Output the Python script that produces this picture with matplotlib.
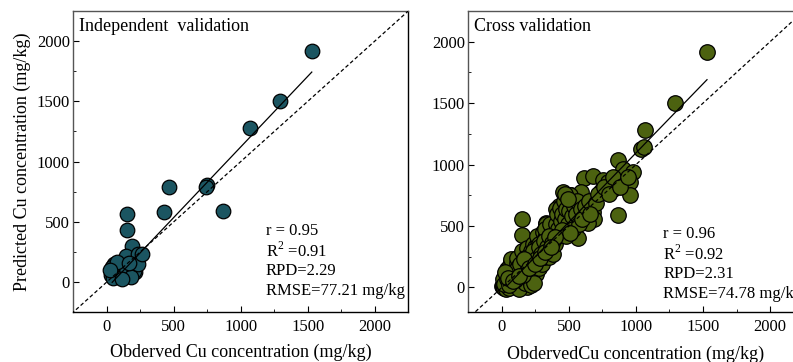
import numpy as np
import matplotlib
matplotlib.use('Agg')
import matplotlib.pyplot as plt
from matplotlib.ticker import MultipleLocator

plt.rcParams['font.family'] = ['Liberation Serif', 'DejaVu Serif']
plt.rcParams['mathtext.fontset'] = 'custom'
plt.rcParams['mathtext.rm'] = 'Liberation Serif'
plt.rcParams['font.size'] = 12

# independent validation set (observed, predicted), mg/kg
ind_obs = [1530, 1290, 1070, 745, 740, 465, 430, 870, 150, 150, 185, 250, 145, 235,
           190, 210, 130, 120, 50, 40, 30, 55, 100, 60, 45, 200, 180, 110, 230, 75,
           165, 20, 260]
ind_pred = [1920, 1500, 1280, 805, 790, 785, 580, 590, 565, 430, 300, 225, 215, 235,
            110, 80, 40, 130, 150, 120, 60, 95, 100, 40, 30, 95, 45, 25, 150, 165,
            160, 100, 236]

# cross validation set (observed, predicted), mg/kg
cv_obs = [1530, 1290, 1070, 1040, 1060, 865, 902, 977, 952, 958, 865, 616, 678, 753,
          790, 828, 740, 453, 516, 591, 429, 404, 591, 678, 690, 640, 528, 566, 429,
          329, 150, 150, 379, 304, 254, 367, 180, 217, 67, 105, 279, 167, 192, 30, 0,
          5, 10, 15, 20, 25, 30, 35, 40, 45, 50, 55, 60, 65, 70, 75, 80, 85, 90, 95,
          100, 20, 40, 60, 10, 30, 50, 70, 90, 80, 65,
          105, 110, 115, 120, 125, 130, 135, 140, 145, 150, 155, 160, 165, 170, 175,
          180, 185, 190, 195, 200, 110, 130, 150, 170, 190, 200, 120, 160, 180, 140,
          205, 210, 215, 220, 225, 230, 235, 240, 245, 250, 255, 260, 265, 270, 275,
          280, 285, 290, 295, 300, 215, 240, 260, 280, 300, 250, 230, 270,
          305, 310, 315, 320, 325, 330, 335, 340, 345, 350, 355, 360, 365, 370, 375,
          380, 385, 390, 395, 400, 320, 360, 390, 340,
          405, 410, 420, 430, 440, 450, 460, 470, 480, 490, 500, 510, 520, 530, 540,
          550, 560, 575, 590, 600, 420, 450, 470, 490, 480, 510,
          15, 35, 55, 75, 95, 115, 135, 155, 175, 195, 215, 235, 255, 275, 295,
          315, 335, 355, 375, 395, 25, 45, 85, 125, 165, 205, 245, 285, 325, 365,
          620, 650, 700, 720, 760, 800, 830, 880, 940, 660]
cv_pred = [1918, 1502, 1279, 1130, 1140, 1040, 966, 939, 857, 749, 591, 890, 904, 871,
           857, 803, 789, 776, 749, 776, 667, 640, 653, 612, 558, 522, 504, 403, 571,
           522, 558, 428, 436, 422, 327, 286, 313, 245, 218, 163, 163, 82, 14, 0, 10,
           0, 20, -5, 40, 10, 60, 25, 90, 0, 50, 120, 30, 80, 140, 10, 60, 110, 170, 40,
           90, 110, 150, 180, 70, -10, -5, 100, 20, 200, 230,
           140, 60, 200, 20, 110, 250, 80, 170, 30, 130, 220, 60, 290, 150, 100,
           210, 0, 260, 120, 180, 240, -10, 300, 40, 320, 70, 170, 200, 140, 110,
           240, 130, 300, 200, 80, 270, 350, 160, 230, 330, 110, 280, 200, 380, 250,
           160, 320, 230, 400, 290, 20, 40, 420, 350, 190, 260, 210, 300,
           350, 450, 250, 400, 330, 520, 290, 440, 380, 250, 470, 340, 410, 300, 500,
           440, 270, 380, 350, 460, 480, 520, 420, 360,
           520, 600, 480, 650, 540, 600, 700, 560, 640, 520, 620, 750, 580, 480, 660,
           600, 700, 520, 640, 560, 420, 470, 760, 720, 420, 440,
           30, 70, 20, 110, 60, 150, 190, 100, 240, 160, 260, 300, 230, 330, 270,
           380, 330, 420, 360, 410, 130, 80, 50, 90, 230, 160, 190, 240, 290, 330,
           660, 700, 690, 760, 820, 760, 900, 820, 900, 600]

# regression lines (intercept, slope) and the range they span
ind_fit = (-50, 1.172)
cv_fit = (-30, 1.125)
fit_range = [40, 1530]

ind_stats = ['r = 0.95', 'R$^2$ =0.91', 'RPD=2.29', 'RMSE=77.21 mg/kg']
cv_stats = ['r = 0.96', 'R$^2$ =0.92', 'RPD=2.31', 'RMSE=74.78 mg/kg']

fig = plt.figure(figsize=(7.93, 3.62), dpi=100)
ax1 = fig.add_axes([0.0925, 0.138, 0.4223, 0.8315])
ax2 = fig.add_axes([0.5906, 0.138, 0.4227, 0.8315])


def panel(ax, obs, pred, fit, stats, title, color, size, ylim, tx, ty):
    ax.scatter(obs, pred, s=size, c=color, edgecolors='black', linewidths=0.9, zorder=2)
    one = np.array([-300, 2300])
    ax.plot(one, one, color='black', lw=0.9, ls=(0, (3, 2)), zorder=3)
    xf = np.array(fit_range)
    ax.plot(xf, fit[0] + fit[1] * xf, color='black', lw=0.9, zorder=3)
    ax.set_xlim(-250, 2250)
    ax.set_ylim(*ylim)
    ax.xaxis.set_major_locator(MultipleLocator(500))
    ax.yaxis.set_major_locator(MultipleLocator(500))
    ax.xaxis.set_minor_locator(MultipleLocator(250))
    ax.yaxis.set_minor_locator(MultipleLocator(250))
    ax.tick_params(which='both', direction='in', top=False, right=False, labelsize=12)
    ax.tick_params(which='major', length=4)
    ax.tick_params(which='minor', length=2.5)
    ax.tick_params(axis='x', which='major', pad=5)
    ax.tick_params(axis='y', which='major', pad=2.5)
    for side in ['left', 'top']:
        ax.spines[side].set_color('#555555')
    for sp in ax.spines.values():
        sp.set_linewidth(1.0)
    ax.text(0.016, 0.948, title, transform=ax.transAxes, va='center', ha='left', fontsize=13)
    for i, s in enumerate(stats):
        ax.text(tx, ty - i * 0.066, s, transform=ax.transAxes, va='center', ha='left',
                fontsize=12)


panel(ax1, ind_obs, ind_pred, ind_fit, ind_stats, 'Independent  validation',
      '#1b5561', 110, (-250, 2250), 0.574, 0.269)
panel(ax2, cv_obs, cv_pred, cv_fit, cv_stats, 'Cross validation',
      '#4c6210', 125, (-200, 2250), 0.582, 0.258)

ax1.set_xlabel('Obderved Cu concentration (mg/kg)', fontsize=13, labelpad=6)
ax1.set_ylabel('Predicted Cu concentration (mg/kg)', fontsize=13)
ax1.yaxis.set_label_coords(-0.125, 0.5)
ax2.set_xlabel('ObdervedCu concentration (mg/kg)', fontsize=13, labelpad=8)

fig.savefig('out.png', dpi=100)
